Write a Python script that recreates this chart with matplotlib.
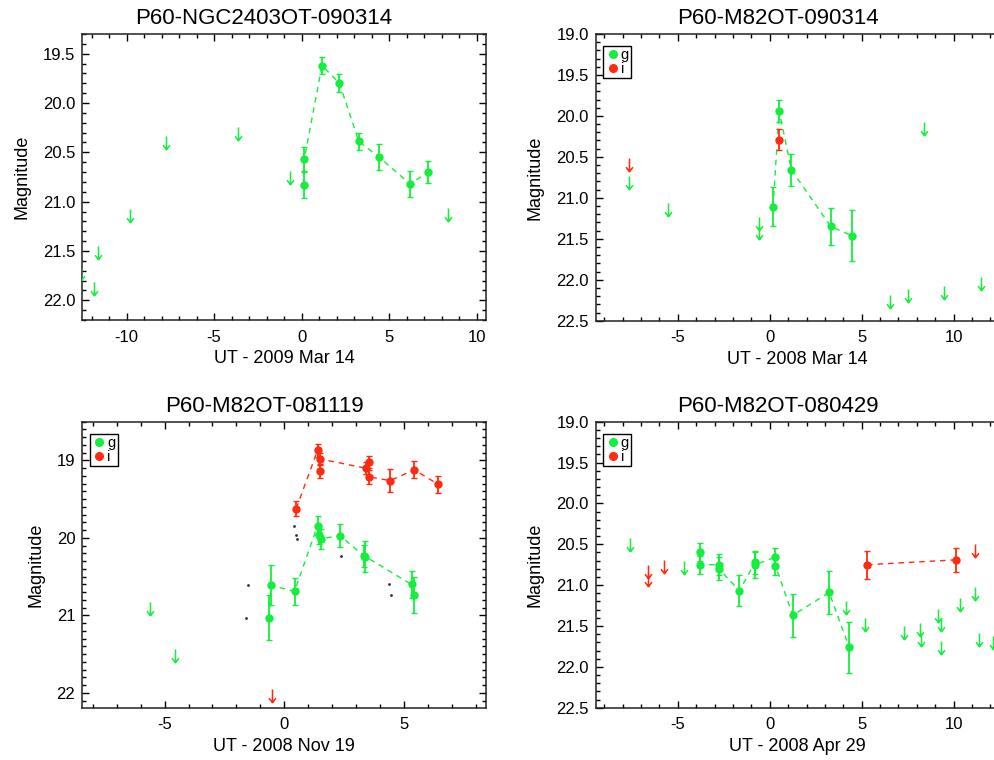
import numpy as np
import matplotlib
matplotlib.use('Agg')
import matplotlib.pyplot as plt
from matplotlib.path import Path
from matplotlib.ticker import MultipleLocator, FormatStrFormatter

plt.rcParams['font.family'] = ['Liberation Sans', 'DejaVu Sans']
plt.rcParams['axes.unicode_minus'] = False

GREEN = '#14ee3c'
RED = '#ff2a10'

# ---------------- Panel A: P60-NGC2403OT-090314 ----------------
a_title = 'P60-NGC2403OT-090314'
a_xlabel = 'UT - 2009 Mar 14'
a_g_t = [0.15, 0.15, 1.16, 2.16, 3.27, 4.43, 6.19, 7.22]
a_g_mag = [20.83, 20.57, 19.62, 19.80, 20.39, 20.55, 20.82, 20.70]
a_g_err = [0.13, 0.12, 0.09, 0.09, 0.09, 0.13, 0.13, 0.115]
a_glim_t = [-12.6, -11.89, -11.62, -9.83, -7.76, -3.63, -0.65, 8.37]
a_glim_mag = [21.66, 21.81, 21.45, 21.07, 20.33, 20.24, 20.69, 21.06]

# ---------------- Panel B: P60-M82OT-090314 ----------------
b_title = 'P60-M82OT-090314'
b_xlabel = 'UT - 2008 Mar 14'
b_g_t = [0.18, 0.51, 1.18, 3.32, 4.45]
b_g_mag = [21.11, 19.94, 20.66, 21.35, 21.46]
b_g_err = [0.24, 0.14, 0.20, 0.23, 0.31]
b_i_t = [0.51]
b_i_mag = [20.29]
b_i_err = [0.13]
b_glim_t = [-7.67, -5.51, -0.58, -0.58, 6.53, 7.51, 8.38, 9.47, 11.50]
b_glim_mag = [20.73, 21.06, 21.24, 21.34, 22.19, 22.11, 20.07, 22.08, 21.97]
b_ilim_t = [-7.67]
b_ilim_mag = [20.51]

# ---------------- Panel C: P60-M82OT-081119 ----------------
c_title = 'P60-M82OT-081119'
c_xlabel = 'UT - 2008 Nov 19'
c_g_t = [-0.63, -0.56, 0.43, 1.39, 1.46, 1.53, 2.33, 3.32, 3.39, 5.32, 5.42]
c_g_mag = [21.03, 20.61, 20.69, 19.84, 19.96, 20.01, 19.97, 20.23, 20.24, 20.60, 20.74]
c_g_err = [0.29, 0.26, 0.17, 0.12, 0.12, 0.13, 0.15, 0.14, 0.20, 0.18, 0.23]
c_i_t = [0.50, 1.39, 1.50, 1.49, 3.41, 3.52, 3.52, 4.42, 5.43, 6.44]
c_i_mag = [19.62, 18.87, 19.14, 18.98, 19.10, 19.02, 19.21, 19.26, 19.12, 19.31]
c_i_err = [0.10, 0.08, 0.08, 0.07, 0.08, 0.08, 0.09, 0.15, 0.11, 0.11]
c_glim_t = [-5.61, -4.55]
c_glim_mag = [20.83, 21.43]
c_ilim_t = [-0.51]
c_ilim_mag = [21.95]
c_dot_t = [-1.61, -1.53, 0.42, 0.49, 0.54, 2.37, 4.38, 4.45]
c_dot_mag = [21.03, 20.61, 19.84, 19.96, 20.01, 20.23, 20.60, 20.74]

# ---------------- Panel D: P60-M82OT-080429 ----------------
d_title = 'P60-M82OT-080429'
d_xlabel = 'UT - 2008 Apr 29'
d_g_t = [-3.77, -3.77, -2.77, -2.77, -1.65, -0.80, -0.80, 0.27, 0.31, 1.25, 3.23, 4.32]
d_g_mag = [20.60, 20.75, 20.75, 20.80, 21.07, 20.72, 20.75, 20.66, 20.76, 21.37, 21.09, 21.76]
d_g_err = [0.11, 0.11, 0.13, 0.14, 0.19, 0.14, 0.16, 0.11, 0.12, 0.26, 0.26, 0.31]
d_i_t = [5.30, 10.16]
d_i_mag = [20.75, 20.69]
d_i_err = [0.17, 0.15]
d_glim_t = [-7.60, -4.66, 4.16, 5.17, 7.31, 8.16, 8.24, 9.16, 9.29, 9.34, 10.34, 11.19, 11.37, 12.15]
d_glim_mag = [20.42, 20.71, 21.19, 21.40, 21.50, 21.46, 21.59, 21.29, 21.40, 21.68, 21.16, 21.02, 21.58, 21.62]
d_ilim_t = [-6.60, -6.60, -5.75, 11.19]
d_ilim_mag = [20.75, 20.85, 20.69, 20.50]

# downward arrow marker: starts at the limit, points to fainter mags
ARROW = Path([(0, 0), (0, -1), (-0.26, -0.66), (0, -1), (0.26, -0.66)],
             [Path.MOVETO, Path.LINETO, Path.MOVETO, Path.LINETO, Path.LINETO])

W, H = 994, 760
fig = plt.figure(figsize=(W / 100, H / 100), dpi=100)


def add_ax(l, t, r, b):
    return fig.add_axes([l / W, 1 - b / H, (r - l) / W, (b - t) / H])


def style(ax, title, xlabel, xlim, ylim, ymaj, yfmt, title_x, label_x):
    ax.set_xlim(*xlim)
    ax.set_ylim(*ylim)
    ax.xaxis.set_major_locator(MultipleLocator(5))
    ax.xaxis.set_minor_locator(MultipleLocator(1))
    ax.yaxis.set_major_locator(MultipleLocator(ymaj))
    ax.yaxis.set_minor_locator(MultipleLocator(0.1))
    ax.yaxis.set_major_formatter(FormatStrFormatter(yfmt))
    ax.tick_params(which='both', direction='in', top=True, right=True,
                   labelsize=12, width=1, color='black')
    ax.tick_params(which='major', length=5)
    ax.tick_params(which='minor', length=2.6)
    ax.tick_params(axis='x', pad=7)
    ax.tick_params(axis='y', pad=5)
    for s in ax.spines.values():
        s.set_linewidth(1.1)
        s.set_color('#222222')
    ax.set_title(title, x=title_x, pad=7, fontsize=16)
    ax.set_xlabel(xlabel, fontsize=13, labelpad=4, x=label_x)
    ax.set_ylabel('Magnitude', fontsize=13, labelpad=9)


def detections(ax, t, m, e, color, label):
    ax.plot(t, m, linestyle=(0, (4, 3.5)), color=color, lw=1, zorder=2)
    ax.errorbar(t, m, yerr=e, fmt='none', ecolor=color, elinewidth=1.3,
                capsize=2, capthick=1, zorder=3)
    ax.plot(t, m, 'o', color=color, ms=5, ls='none', label=label, zorder=4)


def limits(ax, t, m, color):
    ax.plot(t, m, ls='none', marker=ARROW, ms=19, mew=1.1,
            mec=color, mfc='none', zorder=3)


def legend(ax, width_px):
    ax.legend(loc='upper left', bbox_to_anchor=(7.6 / width_px, 1 - 12 / 286),
              borderaxespad=0, fontsize=10.5, labelspacing=0.0,
              handlelength=1.0, handletextpad=0.05, borderpad=0.15,
              fancybox=False, framealpha=1, edgecolor='black',
              markerscale=1.1)


# Panel A
axA = add_ax(82.3, 34, 486, 320)
style(axA, a_title, a_xlabel, (-12.53, 10.53), (22.2, 19.3), 0.5, '%.1f', 0.45, 0.5)
detections(axA, a_g_t, a_g_mag, a_g_err, GREEN, 'g')
limits(axA, a_glim_t, a_glim_mag, GREEN)

# Panel B (right edge extends past the image, as in the reference)
B_RIGHT = 595.7 + (12.8 + 9.47) * 18.38
BW = B_RIGHT - 595.7
axB = add_ax(595.7, 34, B_RIGHT, 320.7)
tx = (777.6 - 595.7) / BW
lx = (797.6 - 595.7) / BW
style(axB, b_title, b_xlabel, (-9.47, 12.8), (22.5, 19.0), 0.5, '%.1f', tx, lx)
detections(axB, b_g_t, b_g_mag, b_g_err, GREEN, 'g')
detections(axB, b_i_t, b_i_mag, b_i_err, RED, 'i')
limits(axB, b_glim_t, b_glim_mag, GREEN)
limits(axB, b_ilim_t, b_ilim_mag, RED)
legend(axB, BW)

# Panel C
axC = add_ax(82.3, 421.7, 486, 707.7)
style(axC, c_title, c_xlabel, (-8.44, 8.43), (22.19, 18.5), 1.0, '%d', 0.45, 0.5)
detections(axC, c_g_t, c_g_mag, c_g_err, GREEN, 'g')
detections(axC, c_i_t, c_i_mag, c_i_err, RED, 'i')
limits(axC, c_glim_t, c_glim_mag, GREEN)
limits(axC, c_ilim_t, c_ilim_mag, RED)
axC.plot(c_dot_t, c_dot_mag, ls='none', marker='.', ms=2, color='#333333', zorder=1)
legend(axC, 486 - 82.3)

# Panel D
axD = add_ax(595.7, 421.7, B_RIGHT, 707.7)
style(axD, d_title, d_xlabel, (-9.47, 12.8), (22.5, 19.0), 0.5, '%.1f', tx, lx)
detections(axD, d_g_t, d_g_mag, d_g_err, GREEN, 'g')
detections(axD, d_i_t, d_i_mag, d_i_err, RED, 'i')
limits(axD, d_glim_t, d_glim_mag, GREEN)
limits(axD, d_ilim_t, d_ilim_mag, RED)
legend(axD, BW)

fig.savefig('out.png', dpi=100)
